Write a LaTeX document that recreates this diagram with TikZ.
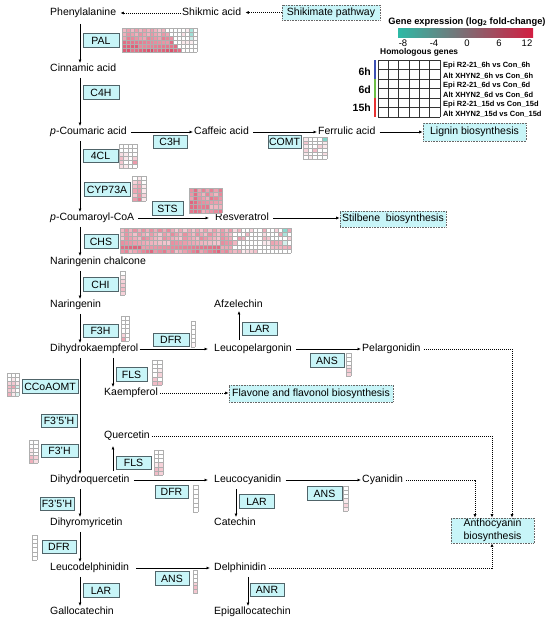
\documentclass[tikz,border=0pt]{standalone}
\usepackage{fontspec}
\setmainfont{Liberation Sans}
\usetikzlibrary{arrows.meta,calc}

\definecolor{boxfill}{RGB}{200,245,248}
\definecolor{boxline}{RGB}{80,100,105}
\definecolor{hred}{RGB}{210,30,65}
\definecolor{hteal}{RGB}{45,185,165}
\definecolor{gridc}{RGB}{175,175,175}
\definecolor{barblue}{RGB}{60,80,180}
\definecolor{bargreen}{RGB}{110,190,70}
\definecolor{barred}{RGB}{230,50,50}

% one cell: x y w h value(-100..100)
\newcommand\hcell[5]{%
  \pgfmathtruncatemacro\hv{#5}%
  \ifnum\hv>100 \def\hv{100}\fi
  \ifnum\hv<-100 \def\hv{-100}\fi
  \ifnum\hv<0 \pgfmathtruncatemacro\nv{-\hv}\edef\hcol{hteal!\nv!white}\else\edef\hcol{hred!\hv!white}\fi
  \fill[\hcol] (#1,#2) rectangle ++(#3,#4);
}
% grid: x y cols rows cellw cellh
\newcommand\hgrid[6]{%
  \foreach \k in {0,...,#3} \draw[gridc, line width=0.3pt] ({#1+\k*#5},#2) -- ({#1+\k*#5},{#2+#4*#6});
  \foreach \k in {0,...,#4} \draw[gridc, line width=0.3pt] (#1,{#2+\k*#6}) -- ({#1+#3*#5},{#2+\k*#6});
}
% explicit heat map: x y cols rows cellw cellh {values row-major}
\newcommand\hmap[7]{%
  \foreach \hval [count=\i from 0] in {#7}{%
    \pgfmathtruncatemacro\hc{mod(\i,#3)}%
    \pgfmathtruncatemacro\hr{div(\i,#3)}%
    \pgfmathsetmacro\hx{#1+\hc*#5}%
    \pgfmathsetmacro\hy{#2+\hr*#6}%
    \hcell{\hx}{\hy}{#5}{#6}{\hval}%
  }%
  \hgrid{#1}{#2}{#3}{#4}{#5}{#6}%
}
% pseudo random heat map: x y cols rows cellw cellh seed expr(\cc,\rr,\nz,\nzb)
\newcommand\hrand[8]{%
  \foreach \cc in {1,...,#3}{%
    \foreach \rr in {1,...,#4}{%
      \pgfmathsetmacro\nz{mod(\cc*37+\rr*71+\cc*\rr*13+#7,97)/97}%
      \pgfmathsetmacro\nzb{mod(\cc*53+\rr*29+\cc*\rr*7+3*#7,89)/89}%
      \pgfmathsetmacro\hx{#1+(\cc-1)*#5}%
      \pgfmathsetmacro\hy{#2+(\rr-1)*#6}%
      \hcell{\hx}{\hy}{#5}{#6}{#8}%
    }}%
  \hgrid{#1}{#2}{#3}{#4}{#5}{#6}%
}

\begin{document}
\begin{tikzpicture}[x=1pt,y=-1pt,
  chem/.style={anchor=west, inner sep=1pt, font=\fontsize{10.5}{12}\selectfont, text height=7.5pt, text depth=2pt},
  enz/.style={draw=boxline, fill=boxfill, line width=0.6pt, inner sep=0pt, minimum height=13.5pt, font=\fontsize{10.5}{12}\selectfont},
  dbox/.style={draw=black!60, fill=boxfill, densely dotted, line width=0.6pt, inner sep=1pt, font=\fontsize{10.5}{13}\selectfont},
  arr/.style={line width=0.8pt, -{Latex[length=3.5pt,width=3pt]}, shorten <=3pt},
  darr/.style={line width=0.7pt, dash pattern=on 0.8pt off 1.2pt, -{Latex[length=3.5pt,width=3pt]}},
  lg/.style={inner sep=0pt, font=\fontsize{9.5}{11}\selectfont},
  lgb/.style={inner sep=0pt, anchor=west, font=\bfseries\fontsize{7.5}{9}\selectfont},
  tm/.style={inner sep=0pt, anchor=east, font=\bfseries\fontsize{10.5}{12}\selectfont},
]
\useasboundingbox (0,0) rectangle (550,624);

% ---------------- compounds
\node[chem] (phe) at (49,13) {Phenylalanine};
\node[chem] (shik) at (181,13) {Shikmic acid};
\node[dbox, minimum width=98pt, minimum height=15pt] (shikp) at (331,12.5) {Shikimate pathway};
\node[chem] (cin) at (49,69) {Cinnamic acid};
\node[chem] (pcou) at (49,132) {\textit{p}-Coumaric acid};
\node[chem] (caf) at (193,132) {Caffeic acid};
\node[chem] (fer) at (317,132) {Ferrulic acid};
\node[dbox, minimum width=103pt, minimum height=18pt] (lig) at (474.5,132) {Lignin biosynthesis};
\node[chem] (pcoa) at (49,218) {\textit{p}-Coumaroyl-CoA};
\node[chem] (res) at (214,218) {Resveratrol};
\node[dbox, minimum width=106pt, minimum height=16pt] (stil) at (393,219) {Stilbene~ biosynthesis};
\node[chem] (narch) at (49,262) {Naringenin chalcone};
\node[chem] (nar) at (49,305) {Naringenin};
\node[chem] (dhk) at (49,349) {Dihydrokaempferol};
\node[chem] (afz) at (213,305) {Afzelechin};
\node[chem] (leup) at (213,349) {Leucopelargonin};
\node[chem] (pel) at (361,349) {Pelargonidin};
\node[chem] (kae) at (103,393) {Kaempferol};
\node[dbox, minimum width=164pt, minimum height=17pt] (flav) at (311,393.5) {Flavone and flavonol biosynthesis};
\node[chem] (que) at (103,436) {Quercetin};
\node[chem] (dhq) at (49,480) {Dihydroquercetin};
\node[chem] (leuc) at (213,480) {Leucocyanidin};
\node[chem] (cya) at (361,480) {Cyanidin};
\node[chem] (cat) at (213,523) {Catechin};
\node[chem] (dhm) at (49,523) {Dihyromyricetin};
\node[chem] (leud) at (49,568) {Leucodelphinidin};
\node[chem] (del) at (213,568) {Delphinidin};
\node[chem] (gal) at (49,612) {Gallocatechin};
\node[chem] (epi) at (213,612) {Epigallocatechin};
\node[dbox, minimum width=83pt, minimum height=25pt, align=center] (anth) at (492.5,530.5) {Anthocyanin\\biosynthesis};

% ---------------- guide coordinates
\coordinate (mx) at (80,0);
\coordinate (kx) at (113,0);
\coordinate (lpx) at (239,0);
\coordinate (lcx) at (236,0);
\coordinate (dlx) at (248,0);
\coordinate (ax1) at (475,0);
\coordinate (ax2) at (492,0);
\coordinate (ax3) at (512,0);

% ---------------- solid arrows
\draw[arr, shorten <=5pt] (phe.south -| mx) -- (cin.north -| mx);
\draw[arr] (cin.south -| mx) -- (pcou.north -| mx);
\draw[arr] (pcou.east) -- (caf.west);
\draw[arr] (caf.east) -- (fer.west);
\draw[arr] (fer.east) -- (lig.west |- fer.east);
\draw[arr] (pcou.south -| mx) -- (pcoa.north -| mx);
\draw[arr, shorten >=5pt] (pcoa.east) -- (res.west);
\draw[arr] (res.east) -- (res.east -| stil.west);
\draw[arr] (pcoa.south -| mx) -- (narch.north -| mx);
\draw[arr] (narch.south -| mx) -- (nar.north -| mx);
\draw[arr] (nar.south -| mx) -- (dhk.north -| mx);
\draw[arr, shorten <=0pt, shorten >=5pt] (dhk.east) -- (leup.west);
\draw[arr] (leup.north -| lpx) -- (afz.south -| lpx);
\draw[arr] (leup.east) -- (pel.west);
\draw[arr] (dhk.south -| kx) -- (kae.north -| kx);
\draw[arr] (dhk.south -| mx) -- (dhq.north -| mx);
\draw[arr, shorten >=4pt] (dhq.north -| kx) -- (que.south -| kx);
\draw[arr, shorten >=5pt] (dhq.east) -- (leuc.west);
\draw[arr] (leuc.east) -- (cya.west);
\draw[arr] (leuc.south -| lcx) -- (cat.north -| lcx);
\draw[arr] (dhq.south -| mx) -- (dhm.north -| mx);
\draw[arr] (dhm.south -| mx) -- (leud.north -| mx);
\draw[arr, shorten <=6pt, shorten >=3pt] (leud.east) -- (del.west);
\draw[arr] (leud.south -| mx) -- (gal.north -| mx);
\draw[arr] (del.south -| dlx) -- (epi.north -| dlx);

% ---------------- dotted arrows
\draw[darr, shorten >=3pt] (shikp.west) -- (shikp.west -| shik.east);
\draw[darr, shorten >=3pt] (shik.west) -- (phe.east);
\draw[darr, shorten <=1pt] (kae.east) -- (kae.east -| flav.west);
\draw[darr, shorten <=2pt] (pel.east) -| (anth.north -| ax3);
\draw[darr, shorten <=1pt] (que.east) -| (anth.north -| ax2);
\draw[darr, shorten <=2pt] (cya.east) -| (anth.north -| ax1);
\draw[darr, shorten <=2pt] (del.east) -| (anth.south -| ax2);

% ---------------- enzymes
\node[enz, minimum width=36pt] (ePAL) at (101,40.5) {PAL};
\node[enz, minimum width=36pt] (eC4H) at (101,92.5) {C4H};
\node[enz, minimum width=34pt] (eC3H) at (170,142) {C3H};
\node[enz, minimum width=33pt] (eCOMT) at (284.5,142) {COMT};
\node[enz, minimum width=35pt] (e4CL) at (100.5,156) {4CL};
\node[enz, minimum width=46pt] (eCYP) at (107,189.5) {CYP73A};
\node[enz, minimum width=31pt] (eSTS) at (167.5,208.5) {STS};
\node[enz, minimum width=34pt] (eCHS) at (101,241.5) {CHS};
\node[enz, minimum width=35pt] (eCHI) at (100.5,284.5) {CHI};
\node[enz, minimum width=35pt] (eF3H) at (100.5,331) {F3H};
\node[enz, minimum width=36pt] (eDFRa) at (171,340) {DFR};
\node[enz, minimum width=35pt] (eLARa) at (259.5,329) {LAR};
\node[enz, minimum width=34pt] (eANSa) at (327,360.5) {ANS};
\node[enz, minimum width=31pt] (eFLSa) at (131.5,374.5) {FLS};
\node[enz, minimum width=56pt] (eCCo) at (50,386.5) {CCoAOMT};
\node[enz, minimum width=36pt] (eF35a) at (59,421) {F3'5'H};
\node[enz, minimum width=37pt] (eF3p) at (59.5,451) {F3'H};
\node[enz, minimum width=35pt] (eFLSb) at (133.5,463) {FLS};
\node[enz, minimum width=33pt] (eDFRb) at (171.5,492) {DFR};
\node[enz, minimum width=35pt] (eANSb) at (324.5,493.5) {ANS};
\node[enz, minimum width=35pt] (eLARb) at (256.5,501.5) {LAR};
\node[enz, minimum width=34pt] (eF35b) at (57,504) {F3'5'H};
\node[enz, minimum width=34pt] (eDFRc) at (59,547) {DFR};
\node[enz, minimum width=34pt] (eANSc) at (172,578.5) {ANS};
\node[enz, minimum width=36pt] (eLARc) at (101,590.5) {LAR};
\node[enz, minimum width=34pt] (eANR) at (267,590) {ANR};

% ---------------- heat maps
\hrand{122}{28}{19}{6}{3.95}{4}{11}{ifthenelse(\cc<=11+\rr/1.5, 18+7*\rr+20*\nz, ifthenelse(\nzb<0.25, 15*\nz, 0))}
\hmap{189.15}{28}{1}{3}{3.95}{4}{-40,-45,-25}
\hmap{173.35}{44}{1}{2}{3.95}{4}{65,70}
\hmap{119}{144}{4}{6}{4.5}{4}{0,0,0,0, 0,0,0,0, 15,10,0,0, 30,10,0,20, 25,0,0,45, 15,10,0,0}
\hmap{132}{176}{3}{6}{4.7}{4.2}{0,10,0, 20,30,0, 30,40,10, 40,45,10, 25,50,20, 45,60,10}
\hrand{189}{188}{8}{6}{4.1}{4.15}{3}{32+30*\nz+ifthenelse(\cc<=2,10,0)}
\hmap{303}{137}{5}{6}{4.8}{3.7}{10,0,0,0,-60, 25,0,0,0,10, 10,0,0,20,10, 20,0,30,0,0, 10,0,0,0,15, 0,10,0,0,0}
\hrand{120}{228}{41}{6}{4.17}{4.17}{7}{ifthenelse(\cc<=27, 25+28*\nz+ifthenelse(\rr>4,22*\nzb,0), ifthenelse(\nzb<0.45, 8+35*\nz, 0))}
\hmap{282.63}{228}{1}{2}{4.17}{4.17}{-55,-40}
\hmap{282.63}{240.51}{1}{1}{4.17}{4.17}{-20}
\hmap{120}{271}{1}{6}{5}{4}{0,10,20,25,30,20}
\hmap{121}{316}{2}{6}{4}{4.2}{0,0, 0,0, 0,0, 0,0, 20,0, 40,0}
\hmap{191}{321}{1}{6}{4.3}{4.3}{0,0,0,0,0,5}
\hmap{346}{353}{1}{6}{5}{3.9}{0,0,0,10,25,20}
\hmap{152}{360}{2}{6}{5}{4.2}{0,0, 0,0, 0,10, 0,20, 25,0, 30,30}
\hmap{7}{373}{3}{6}{4}{3.9}{0,0,0, 0,10,0, 20,25,10, 30,40,-20, 25,15,0, 35,10,-15}
\hmap{29}{440}{2}{6}{4.5}{3.9}{0,0, 0,0, 10,0, 10,0, 30,20, 35,15}
\hmap{154}{450}{2}{6}{4.5}{4.2}{0,0, 0,0, 0,0, 10,20, 30,25, 30,20}
\hmap{193}{485}{1}{6}{5}{4.5}{0,0,0,0,0,0}
\hmap{343}{486}{1}{6}{5}{4.2}{0,0,0,10,20,10}
\hmap{32}{535}{1}{6}{5}{4.2}{0,0,0,0,0,0}
\hmap{193}{570}{1}{6}{4.5}{3.9}{0,0,0,20,30,25}

% ---------------- legend
\node[inner sep=0pt, font=\bfseries\fontsize{9.3}{11}\selectfont] (ltitle) at (467,22) {Gene expression (log\textsubscript{2} fold-change)};
\shade[left color=hteal, middle color=white, right color=hred] (398,28) rectangle (533,37);
\node[lg] (t1) at (403,43) {-8};
\node[lg] (t2) at (434,43) {-4};
\node[lg] (t3) at (467,43) {0};
\node[lg] (t4) at (499,43) {6};
\node[lg] (t5) at (527,43) {12};
\node[inner sep=0pt, anchor=west, font=\bfseries\fontsize{8.4}{10}\selectfont] (hom) at (380,52) {Homologous genes};
\foreach \i in {0,...,6} \draw[line width=0.6pt, black!80] ({378+\i*10.33},60) -- ({378+\i*10.33},117);
\foreach \j in {0,...,6} \draw[line width=0.6pt, black!80] (378,{60+\j*9.5}) -- (440,{60+\j*9.5});
\draw[barblue, line width=1.6pt] (375,60) -- (375,79);
\draw[bargreen, line width=1.6pt] (375,79) -- (375,98);
\draw[barred, line width=1.6pt] (375,98) -- (375,117);
\node[tm] (l6h) at (371,72) {6h};
\node[tm] (l6d) at (371,90) {6d};
\node[tm] (l15h) at (371,108) {15h};
\node[lgb] (r1) at (443,66) {Epi R2-21\_6h vs Con\_6h};
\node[lgb] (r2) at (443,76) {Alt XHYN2\_6h vs Con\_6h};
\node[lgb] (r3) at (443,85.5) {Epi R2-21\_6d vs Con\_6d};
\node[lgb] (r4) at (443,95) {Alt XHYN2\_6d vs Con\_6d};
\node[lgb] (r5) at (443,104.5) {Epi R2-21\_15d vs Con\_15d};
\node[lgb] (r6) at (443,114) {Alt XHYN2\_15d vs Con\_15d};
\end{tikzpicture}
\end{document}
